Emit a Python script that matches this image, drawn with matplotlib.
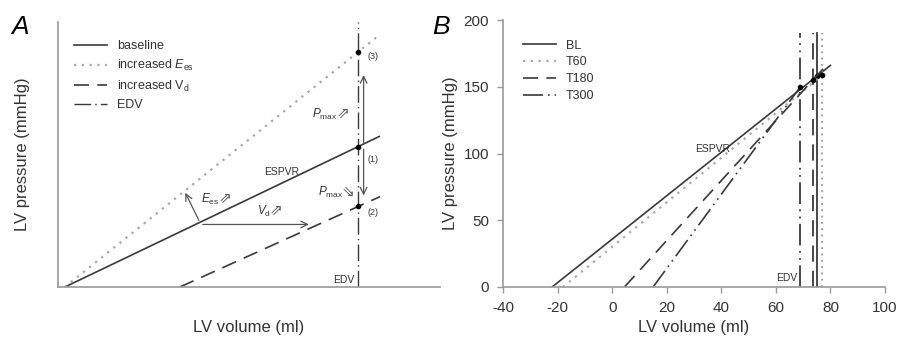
import matplotlib
matplotlib.use("Agg")
import matplotlib.pyplot as plt
import numpy as np

plt.rcParams['font.family'] = ['Liberation Sans', 'DejaVu Sans']
plt.rcParams['mathtext.fontset'] = 'custom'
plt.rcParams['mathtext.rm'] = 'Liberation Sans'
plt.rcParams['mathtext.it'] = 'Liberation Sans:italic'
plt.rcParams['axes.unicode_minus'] = False

# ---------------- Panel A data (arbitrary units) ----------------
A_baseline_x = [1.8, 84.1]
A_baseline_y = [0.0, 56.8]
A_ees_x = [1.8, 83.5]
A_ees_y = [0.0, 94.4]
A_vd_x = [31.9, 84.3]
A_vd_y = [0.0, 34.1]
A_edv = 78.6
A_edv_top = 100.0

# ---------------- Panel B data ----------------
B_labels = ['BL', 'T60', 'T180', 'T300']
B_x = [[-22, 80], [-18, 79], [4.5, 78], [15, 69]]
B_y = [[0, 166], [0, 162], [0, 165], [0, 150]]
B_edv = [75, 77, 73.5, 69]
B_edv_top = 190
B_xticks = [-40, -20, 0, 20, 40, 60, 80, 100]
B_yticks = [0, 50, 100, 150, 200]

DARK = '#3a3a3a'
LIGHT = '#a8a8a8'
SPINE = '#9a9a9a'
TXT = '#333333'

styles = [
    dict(color=DARK, lw=1.2, linestyle='-'),
    dict(color=LIGHT, lw=1.6, linestyle=(0, (1, 2.5))),
    dict(color=DARK, lw=1.2, linestyle=(0, (9, 5))),
    dict(color=DARK, lw=1.2, linestyle=(0, (12, 3, 1, 3, 1, 3))),
]

fig = plt.figure(figsize=(8.97, 3.39), dpi=100)

# ================= Panel A =================
axA = fig.add_axes([58/897, 52/339, 382/897, 265/339])
axA.set_xlim(0, 100)
axA.set_ylim(0, 100)
for s in ['top', 'right']:
    axA.spines[s].set_visible(False)
for s in ['left', 'bottom']:
    axA.spines[s].set_color(SPINE)
    axA.spines[s].set_linewidth(1.2)
axA.set_xticks([])
axA.set_yticks([])

axA.plot(A_baseline_x, A_baseline_y, **styles[0], label='baseline')
axA.plot(A_ees_x, A_ees_y, **styles[1], label='increased $\\it{E}_{\\rm es}$')
axA.plot(A_vd_x, A_vd_y, **styles[2], label='increased V$_{\\rm d}$')
axA.plot([A_edv, A_edv], [0, A_edv_top], color=DARK, lw=1.0,
         linestyle=(0, (12, 3, 1, 3)), label='EDV')

def yat(xs, ys, x):
    return np.interp(x, xs, ys)
p1 = yat(A_baseline_x, A_baseline_y, A_edv)
p2 = yat(A_vd_x, A_vd_y, A_edv)
p3 = yat(A_ees_x, A_ees_y, A_edv)
axA.plot([A_edv] * 3, [p1, p2, p3], 'o', color='black', ms=3)

ak = dict(arrowstyle='->', color='#555555', lw=0.9, mutation_scale=12)
axA.annotate('', xy=(80.0, 81.0), xytext=(80.0, p1), arrowprops=ak)
axA.annotate('', xy=(80.0, 33.5), xytext=(80.0, p1), arrowprops=ak)
axA.annotate('', xy=(66.4, 23.6), xytext=(37.2, 23.6), arrowprops=ak)
axA.annotate('', xy=(33.0, 36.5), xytext=(37.2, 24.2), arrowprops=ak)

fs_small = 7.5
axA.text(81.0, 87.0, '(3)', fontsize=6.5, color=TXT, va='center')
axA.text(81.0, 48.0, '(1)', fontsize=6.5, color=TXT, va='center')
axA.text(81.0, 28.0, '(2)', fontsize=6.5, color=TXT, va='center')
axA.text(58.5, 43.5, 'ESPVR', fontsize=fs_small, color=TXT, ha='center', va='center')
axA.text(77.5, 2.5, 'EDV', fontsize=fs_small, color=TXT, ha='right', va='center')

# symbol labels with a double arrow glyph following them
sym_labels = [
    (66.5, 65.0, '$\\it{P}_{\\rm max}$', '\u21d7'),
    (68.0, 35.5, '$\\it{P}_{\\rm max}$', '\u21d8'),
    (37.5, 33.0, '$\\it{E}_{\\rm es}$', '\u21d7'),
    (52.0, 28.5, '$\\it{V}_{\\rm d}$', '\u21d7'),
]
sym_texts = []
for x, y, lab, arr in sym_labels:
    t = axA.text(x, y, lab, fontsize=8.5, color=TXT, ha='left', va='center')
    sym_texts.append((t, arr))
fig.canvas.draw()
for t, arr in sym_texts:
    bb = t.get_window_extent()
    axA.annotate(arr, xy=(bb.x1 - 1, (bb.y0 + bb.y1) / 2 + 1), xycoords='figure pixels',
                 fontsize=11, color='#555555', family='DejaVu Sans',
                 ha='left', va='center')

legA = axA.legend(loc='upper left', bbox_to_anchor=(0.03, 0.95), frameon=False,
                  fontsize=9, handlelength=2.6, labelspacing=0.45, handletextpad=0.8,
                  borderaxespad=0.0)
for t in legA.get_texts():
    t.set_color(TXT)

axA.set_xlabel('LV volume (ml)', fontsize=12, color=TXT, labelpad=24)
axA.set_ylabel('LV pressure (mmHg)', fontsize=12, color=TXT, labelpad=20)
fig.text(11/897, 1 - 27/339, 'A', fontsize=19, style='italic', color='black', va='center')

# ================= Panel B =================
axB = fig.add_axes([503/897, 52/339, 382/897, 267/339])
axB.set_xlim(-40, 100)
axB.set_ylim(0, 200)
for s in ['top', 'right']:
    axB.spines[s].set_visible(False)
for s in ['left', 'bottom']:
    axB.spines[s].set_color(SPINE)
    axB.spines[s].set_linewidth(1.2)
axB.set_xticks(B_xticks)
axB.set_yticks(B_yticks)
axB.tick_params(colors=SPINE, labelcolor=TXT, labelsize=11, length=4, width=1, pad=6)

for lab, xs, ys, st, edv in zip(B_labels, B_x, B_y, styles, B_edv):
    axB.plot(xs, ys, **st, label=lab)
    vst = dict(st)
    if st['color'] == LIGHT:
        vst['color'] = '#999999'
    vst['lw'] = 1.3
    axB.plot([edv, edv], [0, B_edv_top], **vst)
    axB.plot([edv], [yat(xs, ys, edv)], 'o', color='black', ms=3)

axB.text(37.0, 103.0, 'ESPVR', fontsize=fs_small, color=TXT, ha='center', va='center')
axB.text(67.8, 6.5, 'EDV', fontsize=fs_small, color=TXT, ha='right', va='center')

legB = axB.legend(loc='upper left', bbox_to_anchor=(0.04, 0.945), frameon=False,
                  fontsize=9, handlelength=2.6, labelspacing=0.38, handletextpad=0.8,
                  borderaxespad=0.0)
for t in legB.get_texts():
    t.set_color(TXT)

axB.set_xlabel('LV volume (ml)', fontsize=12, color=TXT, labelpad=4)
axB.set_ylabel('LV pressure (mmHg)', fontsize=12, color=TXT, labelpad=4)
fig.text(432/897, 1 - 27/339, 'B', fontsize=19, style='italic', color='black', va='center')

fig.savefig('out.png', dpi=100)
